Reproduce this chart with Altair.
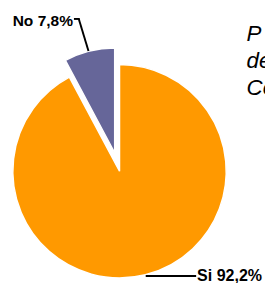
import altair as alt
import pandas as pd

categories = ["Si", "No"]
values = [92.2, 7.8]
labels = ["Si 92,2%", "No 7,8%"]
colors = ["#FF9900", "#666699"]
title_lines = ["P", "de", "Co"]

df = pd.DataFrame({"cat": categories, "val": values, "idx": [0, 1], "label": labels})

color = alt.Color("cat:N", scale=alt.Scale(domain=categories, range=colors), legend=None)

base = alt.Chart(df)

main = base.mark_arc(outerRadius=110, stroke="white", strokeWidth=1.5).encode(
    theta=alt.Theta("val:Q", stack=True),
    order=alt.Order("idx:Q"),
    color=color,
    opacity=alt.condition(alt.datum.cat == "Si", alt.value(1), alt.value(0)),
    x=alt.value(115), y=alt.value(164),
)

expl = base.mark_arc(outerRadius=108, stroke="white", strokeWidth=1.5).encode(
    theta=alt.Theta("val:Q", stack=True),
    order=alt.Order("idx:Q"),
    color=color,
    opacity=alt.condition(alt.datum.cat == "No", alt.value(1), alt.value(0)),
    x=alt.value(110), y=alt.value(145),
)

no_df = pd.DataFrame({"label": [labels[1]]})
si_df = pd.DataFrame({"label": [labels[0]]})

no_text = alt.Chart(no_df).mark_text(
    align="right", baseline="alphabetic", font="Liberation Sans", fontWeight="bold", fontSize=16, color="black"
).encode(text="label:N", x=alt.value(67), y=alt.value(14))

si_text = alt.Chart(si_df).mark_text(
    align="left", baseline="alphabetic", font="Liberation Sans", fontWeight="bold", fontSize=16.5, color="black"
).encode(text="label:N", x=alt.value(195), y=alt.value(277))

no_l1 = alt.Chart(no_df).mark_rule(color="black", strokeWidth=2).encode(
    x=alt.value(68), x2=alt.value(74), y=alt.value(7)
)
no_l2 = alt.Chart(no_df).mark_rule(color="black", strokeWidth=2).encode(
    x=alt.value(73), x2=alt.value(83), y=alt.value(7), y2=alt.value(40)
)
si_l = alt.Chart(si_df).mark_rule(color="black", strokeWidth=2).encode(
    x=alt.value(142), x2=alt.value(194), y=alt.value(272)
)

title = alt.Chart(no_df).mark_text(
    align="left", baseline="alphabetic", font="Liberation Sans", fontStyle="italic",
    fontSize=23, lineHeight=27.5, color="black", lineBreak="\n"
).encode(text=alt.value("\n".join(title_lines)), x=alt.value(246), y=alt.value(30))

chart = alt.layer(main, expl, no_l1, no_l2, si_l, no_text, si_text, title).properties(
    width=265, height=275, padding=0, autosize=alt.AutoSizeParams(type="none")
).configure_view(stroke=None)

chart.save("out.html", embed_options={"renderer": "svg", "actions": False})
